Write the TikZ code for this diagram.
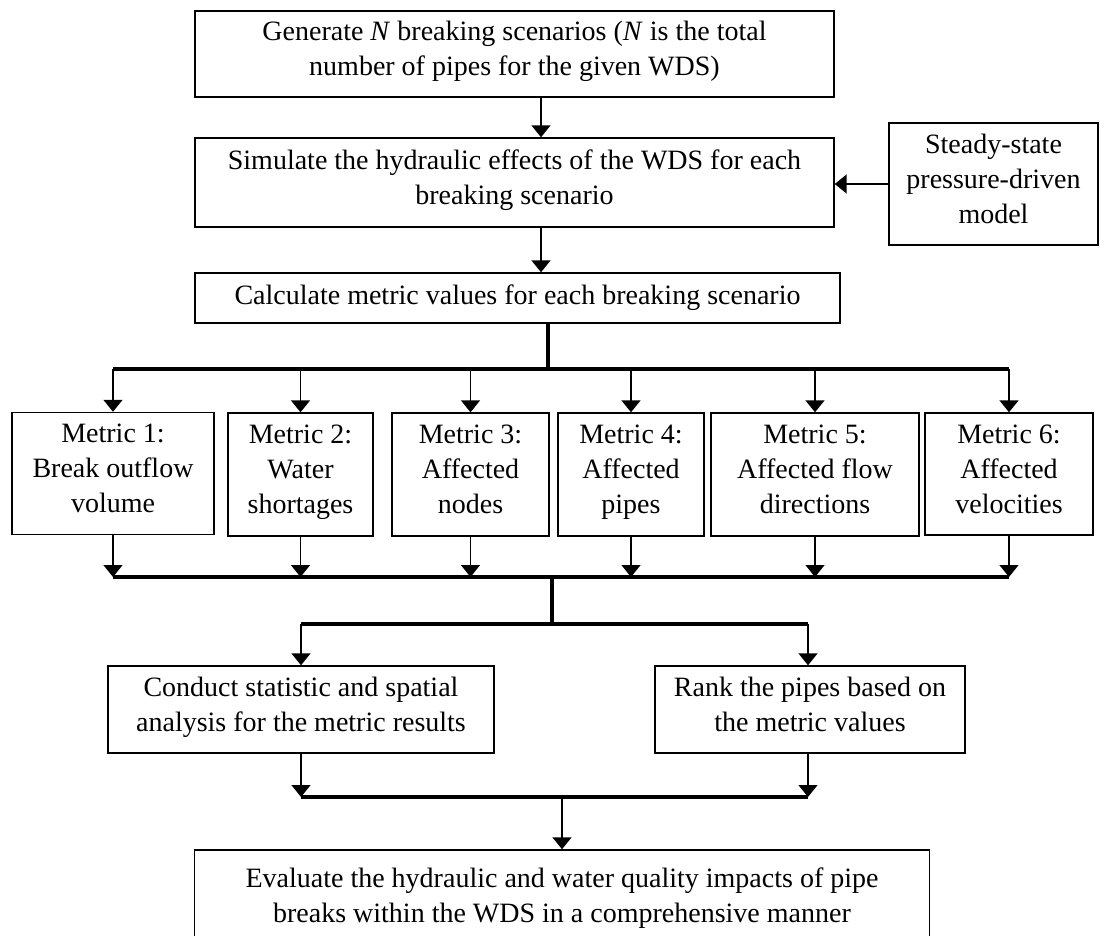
\documentclass[tikz,border=0pt]{standalone}
\usepackage{fontspec}
\setmainfont{Liberation Serif}
\usepackage{tikz}
\usetikzlibrary{arrows.meta}

\begin{document}
\begin{tikzpicture}[x=1pt,y=-1pt]
\tikzstyle{box}=[draw,line width=1.4pt,align=center,inner sep=0pt,font=\fontsize{28}{35}\selectfont,execute at begin node=\strut,execute at end node=\strut]
\tikzstyle{arr}=[line width=1.5pt,-{Triangle[width=19pt,length=12pt]}]
\tikzstyle{bus}=[line width=3.5pt]
\useasboundingbox (0,0) rectangle (1104,936);
\clip (0,0) rectangle (1104,936);
\node[box,minimum width=639pt,minimum height=86pt] (1) at (514.5,54) {Generate \textit{N} breaking scenarios (\textit{N} is the total\\number of pipes for the given WDS)};
\node[box,minimum width=639pt,minimum height=89pt] (2) at (514.5,182.5) {Simulate the hydraulic effects of the WDS for each\\breaking scenario};
\node[box,minimum width=209pt,minimum height=122pt] (3) at (993.5,184) {Steady-state\\pressure-driven\\model};
\node[box,minimum width=645pt,minimum height=50pt] (4) at (517.5,298) {Calculate metric values for each breaking scenario};
\node[box,minimum width=202pt,minimum height=122pt] (5) at (113,473.5) {Metric 1:\\Break outflow\\volume};
\node[box,minimum width=145pt,minimum height=123pt] (6) at (300.5,474.5) {Metric 2:\\Water\\shortages};
\node[box,minimum width=157pt,minimum height=123pt] (7) at (470.5,474.5) {Metric 3:\\Affected\\nodes};
\node[box,minimum width=146pt,minimum height=123pt] (8) at (631,474.5) {Metric 4:\\Affected\\pipes};
\node[box,minimum width=208pt,minimum height=123pt] (9) at (815,474.5) {Metric 5:\\Affected flow\\directions};
\node[box,minimum width=168pt,minimum height=122pt] (10) at (1009,474) {Metric 6:\\Affected\\velocities};
\node[box,minimum width=386pt,minimum height=87pt] (11) at (301,709.5) {Conduct statistic and spatial\\analysis for the metric results};
\node[box,minimum width=310pt,minimum height=87pt] (12) at (810,709.5) {Rank the pipes based on\\the metric values};
\node[box,minimum width=735pt,minimum height=100pt] (13) at (562,900) {Evaluate the hydraulic and water quality impacts of pipe\\breaks within the WDS in a comprehensive manner};
\coordinate (s1) at (541,0);
\coordinate (b1) at (548,369);
\coordinate (b2) at (552,577);
\coordinate (b3) at (552,624);
\coordinate (b4) at (562,797);
\coordinate (c1) at (301,0);
\coordinate (c2) at (808,0);
\draw[arr] (1.south -| s1) -- (2.north -| s1);
\draw[arr] (2.south -| s1) -- (4.north -| s1);
\draw[arr] (3.west) -- (3.west -| 2.east);
\draw[bus] (4.south -| b1) -- (b1);
\draw[bus] (5 |- b1) -- (10 |- b1);
\draw[arr] (5 |- b1) -- (5.north);
\draw[arr] (6 |- b1) -- (6.north);
\draw[arr] (7 |- b1) -- (7.north);
\draw[arr] (8 |- b1) -- (8.north);
\draw[arr] (9 |- b1) -- (9.north);
\draw[arr] (10 |- b1) -- (10.north);
\draw[arr] (5.south) -- (5 |- b2);
\draw[arr] (6.south) -- (6 |- b2);
\draw[arr] (7.south) -- (7 |- b2);
\draw[arr] (8.south) -- (8 |- b2);
\draw[arr] (9.south) -- (9 |- b2);
\draw[arr] (10.south) -- (10 |- b2);
\draw[bus] (5 |- b2) -- (10 |- b2);
\draw[bus] (b2) -- (b3);
\draw[bus] (c1 |- b3) -- (c2 |- b3);
\draw[arr] (c1 |- b3) -- (11.north -| c1);
\draw[arr] (c2 |- b3) -- (12.north -| c2);
\draw[arr] (11.south -| c1) -- (c1 |- b4);
\draw[arr] (12.south -| c2) -- (c2 |- b4);
\draw[bus] (c1 |- b4) -- (c2 |- b4);
\draw[arr] (b4) -- (13.north -| b4);
\end{tikzpicture}
\end{document}
